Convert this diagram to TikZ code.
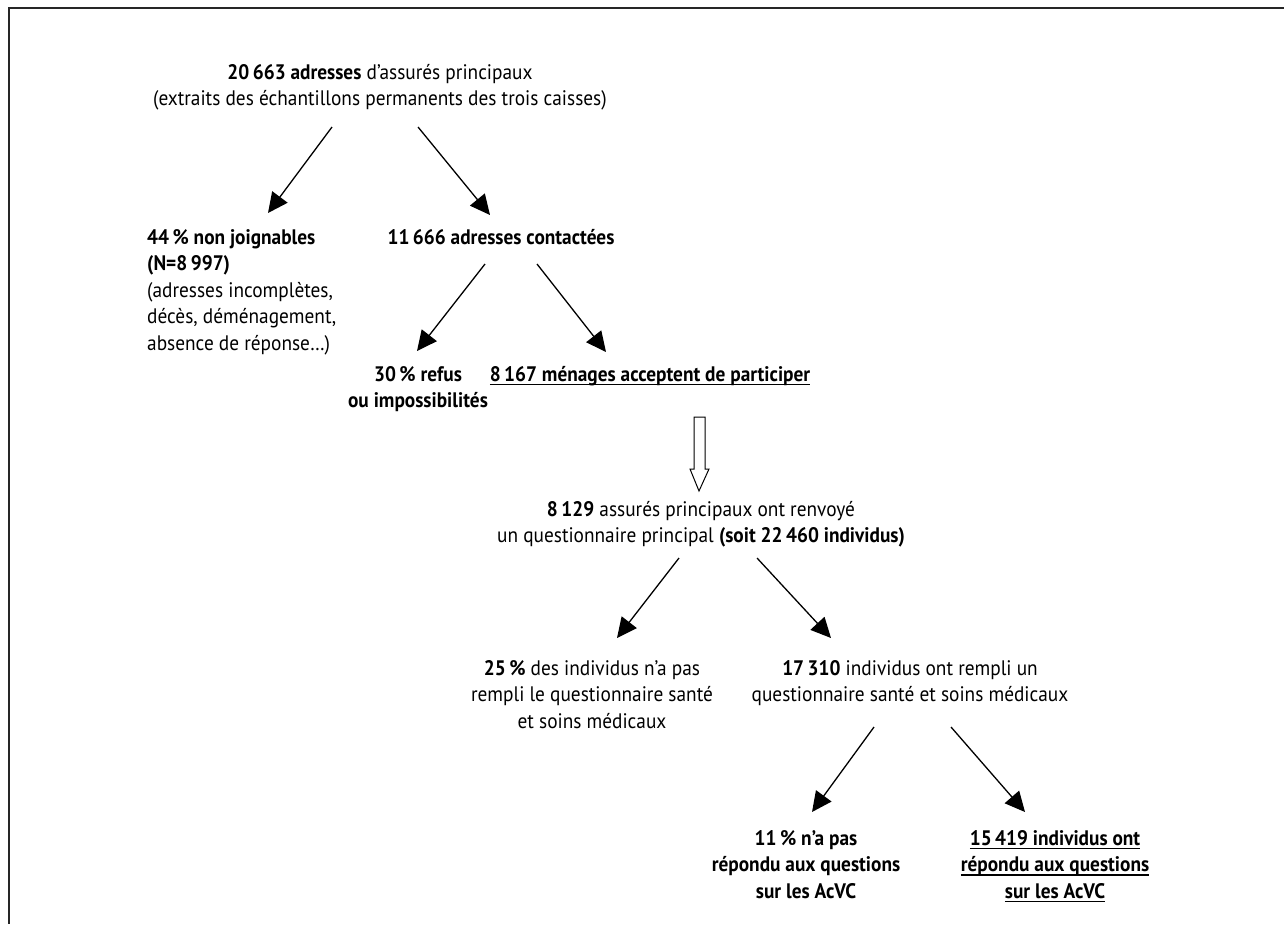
\documentclass[tikz,border=0pt]{standalone}
\usepackage{fontspec}
\setmainfont{PT Sans}[FakeStretch=0.92]
\newsavebox\ulbox
\newcommand\myul[1]{\sbox\ulbox{#1}\rlap{\rule[-4pt]{\wd\ulbox}{1.3pt}}\usebox\ulbox}
\usetikzlibrary{arrows.meta,calc}
\begin{document}
\begin{tikzpicture}[x=1pt,y=-1pt,
  txt/.style={inner sep=0pt, font=\fontsize{21}{26.5}\selectfont},
  ctr/.style={txt, align=center, anchor=north},
  arr/.style={line width=1.3pt, -{Triangle[length=20pt,width=19pt]}},
  hollow/.style={line width=1pt, fill=white},
]
\useasboundingbox (0,0) rectangle (1284,924);
\draw[line width=1.5pt, black!85] (1284,8) -- (9,8) -- (9,924);

\node[ctr] (top) at (380,64) {\textbf{20\,663 adresses} d’assurés principaux\\(extraits des échantillons permanents des trois caisses)};
\node[txt, align=left, anchor=north west] (nj) at (147,229) {\textbf{44\,\% non joignables}\\\textbf{(N=8\,997)}\\(adresses incomplètes,\\décès, déménagement,\\absence de réponse…)};
\node[ctr] (contact) at (501,229) {\textbf{11\,666 adresses contactées}};
\node[ctr] (refus) at (418,366) {\textbf{30\,\% refus}\\\textbf{ou impossibilités}};
\node[ctr] (accept) at (650,366) {\textbf{\myul{8\,167 ménages acceptent de participer}}};
\node[ctr] (renv) at (701,501) {\textbf{8\,129} assurés principaux ont renvoyé\\un questionnaire principal \textbf{(soit 22\,460 individus)}};
\node[ctr] (nremp) at (592,660) {\textbf{25\,\%} des individus n’a pas\\rempli le questionnaire santé\\et soins médicaux};
\node[ctr] (remp) at (910,660) {\textbf{17\,310} individus ont rempli un\\questionnaire santé et soins médicaux};
\node[ctr] (nrep) at (806,830) {\textbf{11\,\% n’a pas}\\\textbf{répondu aux questions}\\\textbf{sur les AcVC}};
\node[ctr] (rep) at (1055,830) {\textbf{\myul{15\,419 individus ont}}\\\textbf{\myul{répondu aux questions}}\\\textbf{\myul{sur les AcVC}}};

\coordinate (a1s) at (332,127); \coordinate (a1e) at (268,213);
\coordinate (a2s) at (418,127); \coordinate (a2e) at (490,215);
\coordinate (a3s) at (485,264); \coordinate (a3e) at (417,351);
\coordinate (a4s) at (537,264); \coordinate (a4e) at (606,352);
\coordinate (a5s) at (679,558); \coordinate (a5e) at (617,638);
\coordinate (a6s) at (757,558); \coordinate (a6e) at (831,638);
\coordinate (a7s) at (874,727); \coordinate (a7e) at (812,812);
\coordinate (a8s) at (951,727); \coordinate (a8e) at (1025,812);

\draw[arr] (a1s) -- (a1e);
\draw[arr] (a2s) -- (a2e);
\draw[arr] (a3s) -- (a3e);
\draw[arr] (a4s) -- (a4e);
\draw[arr] (a5s) -- (a5e);
\draw[arr] (a6s) -- (a6e);
\draw[arr] (a7s) -- (a7e);
\draw[arr] (a8s) -- (a8e);

\draw[hollow] (694,417) -- (705,417) -- (705,469) -- (709,469) -- (699,491) -- (690,469) -- (694,469) -- cycle;
\end{tikzpicture}
\end{document}
